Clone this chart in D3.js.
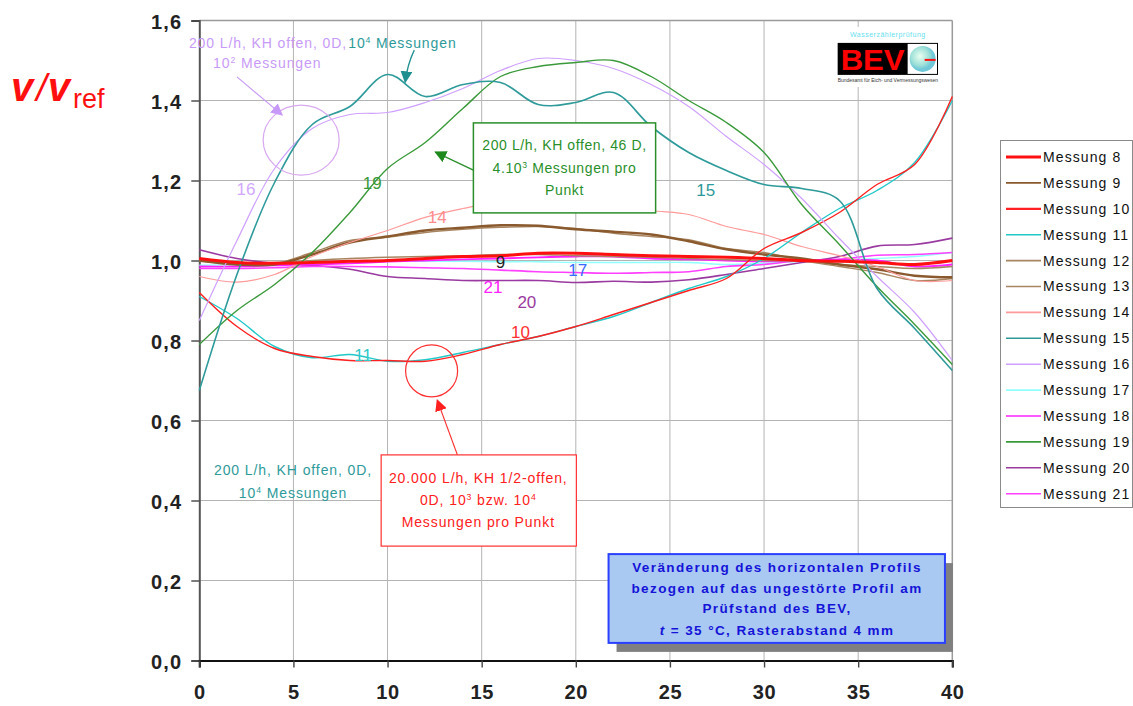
<!DOCTYPE html>
<html>
<head>
<meta charset="utf-8">
<script src="https://cdn.jsdelivr.net/npm/d3@7"></script>
<style>
  body { margin: 0; background: #fff; }
  svg { display: block; font-family: "Liberation Sans", Arial, sans-serif; }
</style>
</head>
<body>
<svg id="chart" width="1133" height="706"></svg>
<script>
// Measuring positions across the pipe (mm / 4 mm grid index)
const positions = [0, 2, 4, 6, 8, 10, 12, 14, 16, 18, 20, 22, 24, 26, 28, 30, 32, 34, 36, 38, 40];

// v / v_ref per measurement series
const m8  = [1.005, 0.995, 0.993, 0.995, 0.998, 1.000, 1.005, 1.010, 1.012, 1.018, 1.018, 1.015, 1.012, 1.010, 1.008, 1.005, 1.000, 0.998, 0.995, 0.990, 1.000];
const m9  = [1.000, 0.990, 0.990, 1.015, 1.045, 1.060, 1.075, 1.082, 1.088, 1.087, 1.078, 1.072, 1.065, 1.048, 1.028, 1.015, 1.005, 0.990, 0.978, 0.962, 0.958];
const m10 = [0.920, 0.835, 0.780, 0.760, 0.750, 0.750, 0.748, 0.765, 0.790, 0.810, 0.835, 0.865, 0.895, 0.925, 0.955, 1.030, 1.070, 1.120, 1.190, 1.240, 1.410];
const m11 = [0.910, 0.855, 0.785, 0.757, 0.765, 0.748, 0.752, 0.770, 0.790, 0.810, 0.835, 0.860, 0.895, 0.930, 0.960, 1.005, 1.070, 1.130, 1.175, 1.245, 1.400];
const m12 = [0.998, 0.995, 0.995, 1.000, 1.005, 1.008, 1.010, 1.012, 1.015, 1.015, 1.012, 1.010, 1.008, 1.005, 1.002, 1.000, 0.998, 0.990, 0.985, 0.980, 0.985];
const m13 = [1.000, 0.990, 0.992, 1.020, 1.050, 1.058, 1.070, 1.078, 1.083, 1.085, 1.080, 1.068, 1.060, 1.052, 1.030, 1.020, 1.000, 0.985, 0.970, 0.950, 0.955];
const m14 = [0.960, 0.946, 0.965, 1.010, 1.045, 1.075, 1.108, 1.130, 1.147, 1.150, 1.150, 1.140, 1.125, 1.115, 1.085, 1.065, 1.035, 1.012, 0.985, 0.950, 0.950];
const m15 = [0.675, 0.965, 1.195, 1.340, 1.385, 1.465, 1.410, 1.440, 1.445, 1.390, 1.395, 1.420, 1.335, 1.270, 1.225, 1.190, 1.180, 1.150, 0.930, 0.830, 0.725];
const m16 = [0.850, 1.050, 1.230, 1.330, 1.365, 1.370, 1.395, 1.430, 1.475, 1.505, 1.500, 1.480, 1.440, 1.385, 1.310, 1.240, 1.155, 1.055, 0.960, 0.870, 0.750];
const m17 = [0.988, 0.990, 0.992, 0.995, 0.997, 0.998, 0.998, 0.998, 0.997, 0.997, 0.995, 0.995, 0.995, 0.995, 0.990, 0.993, 0.998, 1.000, 1.005, 1.010, 1.020];
const m18 = [0.985, 0.985, 0.988, 0.990, 0.993, 0.997, 1.000, 1.003, 1.005, 1.008, 1.010, 1.010, 1.005, 1.003, 1.000, 0.998, 1.000, 1.002, 1.000, 0.985, 0.990];
const m19 = [0.790, 0.875, 0.940, 1.020, 1.120, 1.230, 1.295, 1.380, 1.460, 1.485, 1.495, 1.500, 1.460, 1.400, 1.345, 1.270, 1.140, 1.040, 0.935, 0.840, 0.740];
const m20 = [1.027, 1.005, 0.993, 0.988, 0.978, 0.960, 0.955, 0.950, 0.950, 0.950, 0.945, 0.948, 0.946, 0.952, 0.965, 0.980, 0.995, 1.010, 1.036, 1.040, 1.056];
const m21 = [0.980, 0.980, 0.982, 0.985, 0.985, 0.984, 0.982, 0.980, 0.976, 0.972, 0.970, 0.968, 0.970, 0.972, 0.985, 0.990, 1.000, 1.003, 1.013, 1.015, 1.020];

const seriesNames  = ["Messung 8", "Messung 9", "Messung 10", "Messung 11", "Messung 12", "Messung 13", "Messung 14",
                      "Messung 15", "Messung 16", "Messung 17", "Messung 18", "Messung 19", "Messung 20", "Messung 21"];
const seriesValues = [m8, m9, m10, m11, m12, m13, m14, m15, m16, m17, m18, m19, m20, m21];
const seriesColors = ["#ff1010", "#8a5a2e", "#ff2020", "#20c8c8", "#a88560", "#a88560", "#ff9a9a",
                      "#2e9a9a", "#cfa0ff", "#90ffff", "#ff20ff", "#3a9a3a", "#9a3aa0", "#ff40ff"];
const seriesWidths = [3, 2.4, 1.4, 1.4, 1.4, 1.4, 1.2, 1.6, 1.2, 1.4, 1.8, 1.4, 1.6, 1.6];
// painting order: light, thin curves first, heavy reference curve last
const drawOrder = [9, 12, 13, 10, 4, 5, 1, 6, 3, 2, 8, 11, 7, 0];

const xTicks = [0, 5, 10, 15, 20, 25, 30, 35, 40];
const yTicks = [0, 0.2, 0.4, 0.6, 0.8, 1.0, 1.2, 1.4, 1.6];

const svg = d3.select("#chart");
const plotL = 199.3, plotR = 952.3, plotT = 20.5, plotB = 660.5;

const x = d3.scaleLinear().domain([0, 40]).range([plotL, plotR]);
const y = d3.scaleLinear().domain([0, 1.6]).range([plotB, plotT]);

const de = d3.formatLocale({ decimal: ",", thousands: ".", grouping: [3], currency: ["", " €"] });
const fmtY = de.format(".1f");

// ---- grid ----
const grid = svg.append("g");
grid.selectAll("line.gx").data(xTicks.slice(1, -1)).join("line")
  .attr("x1", d => x(d)).attr("x2", d => x(d)).attr("y1", plotT).attr("y2", plotB)
  .attr("stroke", "#b4b4b4").attr("stroke-width", 1);
grid.selectAll("line.gy").data(yTicks.slice(1, -1)).join("line")
  .attr("x1", plotL).attr("x2", plotR).attr("y1", d => y(d)).attr("y2", d => y(d))
  .attr("stroke", "#b4b4b4").attr("stroke-width", 1);
// frame top / right
grid.append("line").attr("x1", plotL).attr("x2", plotR).attr("y1", plotT).attr("y2", plotT)
  .attr("stroke", "#9a9a9a").attr("stroke-width", 1.5);
grid.append("line").attr("x1", plotR).attr("x2", plotR).attr("y1", plotT).attr("y2", plotB)
  .attr("stroke", "#9a9a9a").attr("stroke-width", 1.5);

// ---- axes ----
const yAxis = svg.append("g").attr("transform", `translate(${plotL},0)`)
  .call(d3.axisLeft(y).tickValues(yTicks).tickFormat(fmtY).tickSize(8).tickPadding(9));
const xAxis = svg.append("g").attr("transform", `translate(0,${plotB})`)
  .call(d3.axisBottom(x).tickValues(xTicks).tickFormat(d3.format("d")).tickSize(7).tickPadding(17));
[yAxis, xAxis].forEach(a => {
  a.selectAll("text").attr("font-family", "'Liberation Sans', Arial, sans-serif")
    .attr("font-size", 20).attr("font-weight", "bold").attr("fill", "#222");
  a.selectAll("line").attr("stroke", "#444").attr("stroke-width", 1.4);
});
yAxis.selectAll("text").attr("letter-spacing", 1.2).attr("dy", "0.42em");
xAxis.selectAll("text").attr("letter-spacing", 0.6);
yAxis.select(".domain").attr("stroke", "#555").attr("stroke-width", 2);
xAxis.select(".domain").attr("stroke", "#111").attr("stroke-width", 2.2);

// ---- curves ----
const line = d3.line()
  .x((d, i) => x(positions[i]))
  .y(d => y(d))
  .curve(d3.curveCatmullRom.alpha(0.5));

const curves = svg.append("g");
drawOrder.forEach(i => {
  curves.append("path")
    .datum(seriesValues[i])
    .attr("d", line)
    .attr("fill", "none")
    .attr("stroke", seriesColors[i])
    .attr("stroke-width", seriesWidths[i])
    .attr("stroke-linejoin", "round");
});

// ---- arrow markers ----
const defs = svg.append("defs");
function marker(id, color) {
  defs.append("marker").attr("id", id).attr("viewBox", "0 0 10 10")
    .attr("refX", 9).attr("refY", 5).attr("markerWidth", 12).attr("markerHeight", 12)
    .attr("markerUnits", "userSpaceOnUse").attr("orient", "auto")
    .append("path").attr("d", "M0,0 L10,5 L0,10 Z").attr("fill", color);
}
marker("arLav", "#c89af8");
marker("arTeal", "#1f8f8f");
marker("arGreen", "#1e8a1e");
marker("arRed", "#ff2020");

const ann = svg.append("g");

// series number labels
const curveLabels = [
  { t: "16", x: 2.48,  v: 1.179, c: "#d2a8ff" },
  { t: "19", x: 9.19,  v: 1.194, c: "#3a9a3a" },
  { t: "14", x: 12.64, v: 1.109, c: "#ff8c8c" },
  { t: "15", x: 26.9,  v: 1.176, c: "#2e9a9a" },
  { t: "9",  x: 16.0,  v: 0.996, c: "#222222" },
  { t: "17", x: 20.1,  v: 0.976, c: "#3a6aff" },
  { t: "21", x: 15.6,  v: 0.934, c: "#ff20ff" },
  { t: "20", x: 17.4,  v: 0.896, c: "#9a3aa0" },
  { t: "10", x: 17.06, v: 0.821, c: "#ff3030" },
  { t: "11", x: 8.7,   v: 0.764, c: "#30c8c8" }
];
ann.selectAll("text.cl").data(curveLabels).join("text")
  .attr("x", d => x(d.x)).attr("y", d => y(d.v)).attr("dy", "0.36em")
  .attr("text-anchor", "middle").attr("font-size", 17).attr("fill", d => d.c)
  .text(d => d.t);

// helper for text with superscript
function supText(g, px, py, parts, opts) {
  const t = g.append("text").attr("x", px).attr("y", py).attr("dy", "0.35em")
    .attr("font-size", opts.size || 14).attr("fill", opts.color)
    .attr("letter-spacing", opts.ls === undefined ? 0.9 : opts.ls)
    .attr("text-anchor", opts.anchor || "start");
  parts.forEach(p => {
    if (typeof p === "string") {
      t.append("tspan").text(p);
    } else {
      t.append("tspan").attr("baseline-shift", "super").attr("font-size", (opts.size || 14) * 0.62).text(p.sup);
    }
  });
  return t;
}

// upper-left annotation (curves 16 and 15)
supText(ann, x(-0.55), y(1.544), ["200 L/h, KH offen, 0D,"], { color: "#c89af8" });
supText(ann, x(7.91), y(1.544), ["10", { sup: "4" }, " Messungen"], { color: "#2e9a9a" });
supText(ann, x(0.73), y(1.494), ["10", { sup: "2" }, " Messungen"], { color: "#c89af8" });
ann.append("ellipse").attr("cx", x(5.41)).attr("cy", y(1.301)).attr("rx", 38).attr("ry", 35)
  .attr("fill", "none").attr("stroke", "#d8a8f0").attr("stroke-width", 1.2);
ann.append("line").attr("x1", x(2.0)).attr("y1", y(1.459)).attr("x2", x(4.4)).attr("y2", y(1.364))
  .attr("stroke", "#c89af8").attr("stroke-width", 1.2).attr("marker-end", "url(#arLav)");
ann.append("path")
  .attr("d", `M${x(11.42)},${y(1.526)} Q${x(11.05)},${y(1.49)} ${x(10.94)},${y(1.446)}`)
  .attr("fill", "none").attr("stroke", "#1f8f8f").attr("stroke-width", 1.3).attr("marker-end", "url(#arTeal)");

// green box (curve 19)
ann.append("rect").attr("x", x(14.56)).attr("y", y(1.344))
  .attr("width", x(24.24) - x(14.56)).attr("height", y(1.119) - y(1.344))
  .attr("fill", "#fff").attr("stroke", "#2a8f2a").attr("stroke-width", 1.5);
supText(ann, x(19.4), y(1.289), ["200 L/h, KH offen, 46 D,"], { color: "#2a8f2a", anchor: "middle", ls: 0.6 });
supText(ann, x(19.4), y(1.231), ["4.10", { sup: "3" }, " Messungen pro"], { color: "#2a8f2a", anchor: "middle", ls: 0.6 });
supText(ann, x(19.4), y(1.176), ["Punkt"], { color: "#2a8f2a", anchor: "middle", ls: 0.6 });
ann.append("line").attr("x1", x(14.56)).attr("y1", y(1.226)).attr("x2", x(12.54)).attr("y2", y(1.271))
  .attr("stroke", "#2a8f2a").attr("stroke-width", 1.3).attr("marker-end", "url(#arGreen)");

// red circle, arrow and box (curves 8 / 10)
ann.append("circle").attr("cx", x(12.34)).attr("cy", y(0.724)).attr("r", 26)
  .attr("fill", "none").attr("stroke", "#ff3030").attr("stroke-width", 1.2);
ann.append("line").attr("x1", x(13.71)).attr("y1", y(0.514)).attr("x2", x(12.64)).attr("y2", y(0.651))
  .attr("stroke", "#ff3030").attr("stroke-width", 1.2).attr("marker-end", "url(#arRed)");
ann.append("rect").attr("x", x(9.66)).attr("y", y(0.514))
  .attr("width", x(20.03) - x(9.66)).attr("height", y(0.286) - y(0.514))
  .attr("fill", "#fff").attr("stroke", "#ff3030").attr("stroke-width", 1.2);
supText(ann, x(14.82), y(0.456), ["20.000 L/h, KH 1/2-offen,"], { color: "#ff2020", anchor: "middle" });
supText(ann, x(14.82), y(0.401), ["0D, 10", { sup: "3" }, " bzw. 10", { sup: "4" }], { color: "#ff2020", anchor: "middle" });
supText(ann, x(14.82), y(0.346), ["Messungen pro Punkt"], { color: "#ff2020", anchor: "middle" });

// lower-left note (curve 15)
supText(ann, x(4.98), y(0.476), ["200 L/h, KH offen, 0D,"], { color: "#2e9a9a", anchor: "middle" });
supText(ann, x(4.98), y(0.419), ["10", { sup: "4" }, " Messungen"], { color: "#2e9a9a", anchor: "middle" });

// description box with drop shadow
const bx0 = x(21.74), bx1 = x(39.61), by0 = y(0.266), by1 = y(0.044);
ann.append("rect").attr("x", bx0 + 8).attr("y", by0 + 9).attr("width", bx1 - bx0).attr("height", by1 - by0)
  .attr("fill", "#808080");
ann.append("rect").attr("x", bx0).attr("y", by0).attr("width", bx1 - bx0).attr("height", by1 - by0)
  .attr("fill", "#a9c8f2").attr("stroke", "#2a40ff").attr("stroke-width", 2);
const descLines = ["Veränderung des horizontalen Profils", "bezogen auf das ungestörte Profil am", "Prüfstand des BEV,"];
const descY = [0.234, 0.181, 0.131];
descLines.forEach((s, i) => {
  ann.append("text").attr("x", x(30.69)).attr("y", y(descY[i])).attr("dy", "0.35em")
    .attr("text-anchor", "middle").attr("font-size", 13.5).attr("font-weight", "bold")
    .attr("letter-spacing", 1.4).attr("fill", "#1414d8").text(s);
});
const lastLine = ann.append("text").attr("x", x(30.69)).attr("y", y(0.076)).attr("dy", "0.35em")
  .attr("text-anchor", "middle").attr("font-size", 13.5).attr("font-weight", "bold")
  .attr("letter-spacing", 1.4).attr("fill", "#1414d8");
lastLine.append("tspan").attr("font-style", "italic").text("t");
lastLine.append("tspan").text(" = 35 °C, Rasterabstand 4 mm");

// BEV logo
const lx0 = x(33.91), lx1 = x(39.24), ly0 = y(1.544), ly1 = y(1.464);
const logo = svg.append("g");
logo.append("rect").attr("x", lx0 - 2).attr("y", ly0 - 16).attr("width", lx1 - lx0 + 8).attr("height", ly1 - ly0 + 28)
  .attr("fill", "#fff");
logo.append("text").attr("x", (lx0 + lx1) / 2).attr("y", ly0 - 6).attr("text-anchor", "middle")
  .attr("font-size", 7).attr("fill", "#66e0f0").attr("letter-spacing", 0.5).text("Wasserzählerprüfung");
logo.append("rect").attr("x", lx0).attr("y", ly0).attr("width", lx1 - lx0).attr("height", ly1 - ly0)
  .attr("fill", "#000");
logo.append("rect").attr("x", lx0 + 70).attr("y", ly0 + 1).attr("width", lx1 - lx0 - 71).attr("height", ly1 - ly0 - 2)
  .attr("fill", "#fff");
logo.append("text").attr("x", lx0 + 3).attr("y", ly1 - 5).attr("font-size", 29).attr("font-weight", "bold")
  .attr("fill", "#ff0000").attr("textLength", 64).attr("lengthAdjust", "spacingAndGlyphs").text("BEV");
const grad = defs.append("radialGradient").attr("id", "globe").attr("cx", "40%").attr("cy", "40%");
grad.append("stop").attr("offset", "0%").attr("stop-color", "#e8fff0");
grad.append("stop").attr("offset", "70%").attr("stop-color", "#9ee0d8");
grad.append("stop").attr("offset", "100%").attr("stop-color", "#70c8d8");
logo.append("circle").attr("cx", lx0 + 85).attr("cy", (ly0 + ly1) / 2).attr("r", 13).attr("fill", "url(#globe)");
logo.append("line").attr("x1", lx0 + 87).attr("x2", lx0 + 98).attr("y1", (ly0 + ly1) / 2 + 1).attr("y2", (ly0 + ly1) / 2 + 1)
  .attr("stroke", "#ff1010").attr("stroke-width", 2);
logo.append("text").attr("x", lx0).attr("y", ly1 + 7).attr("font-size", 5).attr("fill", "#333")
  .attr("textLength", lx1 - lx0).attr("lengthAdjust", "spacingAndGlyphs")
  .text("Bundesamt für Eich- und Vermessungswesen");

// y-axis title
const yTitle = svg.append("text").attr("x", 11).attr("y", 101).attr("fill", "#ff1010");
yTitle.append("tspan").attr("font-size", 40).attr("font-weight", "bold").attr("font-style", "italic").text("v");
yTitle.append("tspan").attr("font-size", 38).attr("font-style", "italic").attr("dx", 3).text("/");
yTitle.append("tspan").attr("font-size", 40).attr("font-weight", "bold").attr("font-style", "italic").attr("dx", 1).text("v");
yTitle.append("tspan").attr("font-size", 27).attr("dy", 7).attr("dx", 3).text("ref");

// ---- legend ----
const legend = svg.append("g");
legend.append("rect").attr("x", 1000.5).attr("y", 140.5).attr("width", 132).attr("height", 367)
  .attr("fill", "#fff").attr("stroke", "#8a8a8a").attr("stroke-width", 1);
const rows = legend.selectAll("g.row").data(seriesNames).join("g")
  .attr("transform", (d, i) => `translate(0,${157 + i * 25.9})`);
rows.append("line").attr("x1", 1006).attr("x2", 1041).attr("y1", 0).attr("y2", 0)
  .attr("stroke", (d, i) => seriesColors[i])
  .attr("stroke-width", (d, i) => i === 0 ? 3 : (i === 2 ? 2.2 : 1.6));
rows.append("text").attr("x", 1043).attr("y", 0).attr("dy", "0.35em")
  .attr("font-size", 14).attr("letter-spacing", 1.1).attr("fill", "#111").text(d => d);
</script>
</body>
</html>
